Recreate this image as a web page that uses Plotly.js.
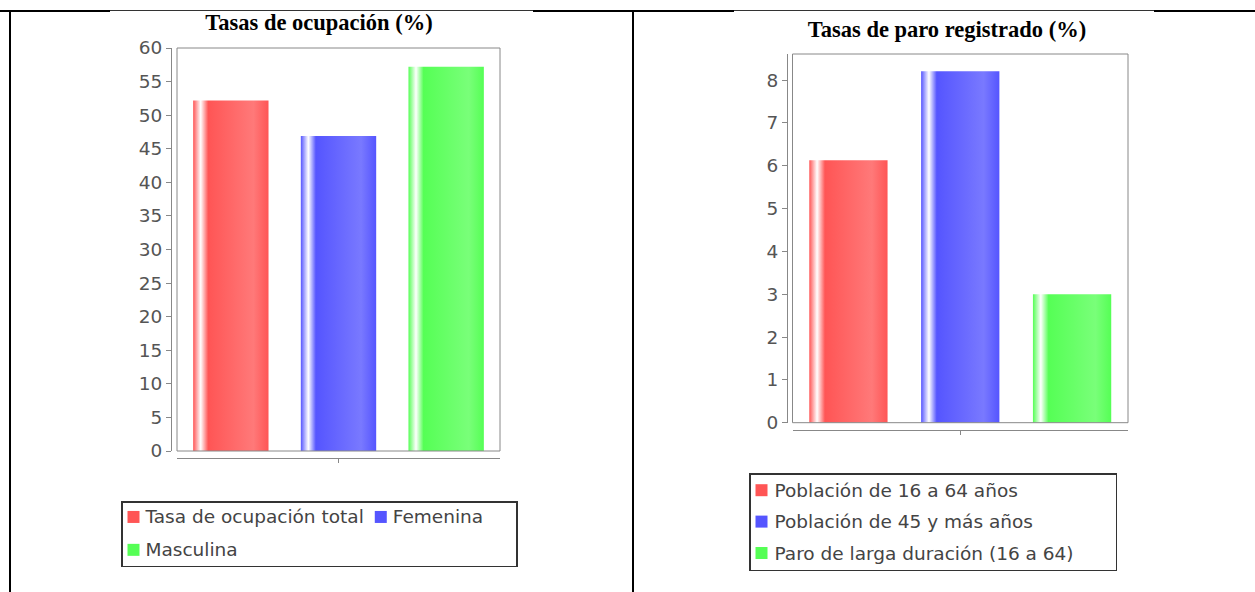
<!DOCTYPE html>
<html>
<head>
<meta charset="utf-8">
<script src="https://cdn.plot.ly/plotly-3.0.1.min.js"></script>
<style>
  html, body { margin:0; padding:0; background:#fff; }
  #page { position:relative; width:1255px; height:592px; overflow:hidden; background:#fff; }
  .chart { position:absolute; top:0; height:592px; }
  .rule { position:absolute; background:#000; z-index:5; pointer-events:none; }
  .thin { position:absolute; z-index:6; height:2px; top:10px; background:linear-gradient(#333 0 1px, #fff 1px 2px); pointer-events:none; }
</style>
</head>
<body>
<div id="page">
  <div id="left" class="chart" style="left:-25px;width:657px;"></div>
  <div id="right" class="chart" style="left:632px;width:623px;"></div>
  <div class="rule" style="left:0;top:10px;width:1255px;height:2px;"></div>
  <div class="thin" style="left:110px;width:423px;"></div>
  <div class="thin" style="left:734px;width:420px;"></div>
  <div class="rule" style="left:9px;top:10px;width:2px;height:582px;"></div>
  <div class="rule" style="left:632px;top:10px;width:2px;height:582px;"></div>
</div>
<script>
// ---- data ----
const leftTitle = 'Tasas de ocupación (%)';
const leftSeries = ['Tasa de ocupación total', 'Femenina', 'Masculina'];
const leftValues = [52.2, 46.9, 57.2];

const rightTitle = 'Tasas de paro registrado (%)';
const rightSeries = ['Población de 16 a 64 años', 'Población de 45 y más años', 'Paro de larga duración (16 a 64)'];
const rightValues = [6.13, 8.21, 3.0];

const seriesColors = ['#FF5555', '#5555FF', '#55FF55'];
const brightColors = ['#FF7979', '#7979FF', '#79FF79'];

const AXIS_GREY = '#888888';
const TICK_FONT = {family: 'DejaVu Sans, sans-serif', size: 18.5, color: '#555555'};
const LEG_TEXT_SIZE = 18.5;
const TITLE_FONT = {family: 'Liberation Serif, serif', size: 22.5, color: '#000000', weight: 700};

function makeTraces(names, values) {
  return names.map((n, i) => ({
    type: 'bar',
    name: '<span style="font-size:' + LEG_TEXT_SIZE + 'px">' + n + '</span>',
    x: [''],
    y: [values[i]],
    marker: {color: seriesColors[i], line: {width: 0}},
    hoverinfo: 'skip'
  }));
}

function baseLayout(opts) {
  return {
    width: opts.width, height: 592,
    margin: {l: opts.l, r: opts.r, t: opts.t, b: opts.b, pad: 0, autoexpand: false},
    paper_bgcolor: 'rgba(0,0,0,0)',
    plot_bgcolor: '#ffffff',
    barmode: 'group', bargap: 0, bargroupgap: 0.3,
    showlegend: true,
    title: {text: opts.title, font: TITLE_FONT, xref: 'container', yref: 'container',
            x: opts.titleX, y: opts.titleY, xanchor: 'center', yanchor: 'middle'},
    xaxis: {
      domain: [opts.xd0, 1], anchor: 'free', position: 0, type: 'category',
      range: [-0.5, 0.5], showline: true, linecolor: AXIS_GREY, linewidth: 1,
      ticks: 'outside', ticklen: 4, tickcolor: AXIS_GREY, showticklabels: false,
      showgrid: false, zeroline: false, fixedrange: true
    },
    yaxis: {
      domain: [opts.yd0, 1], anchor: 'free', position: 0,
      range: opts.yrange, dtick: opts.dtick, tick0: 0,
      showline: true, linecolor: AXIS_GREY, linewidth: 1,
      ticks: 'outside', ticklen: 5, tickcolor: AXIS_GREY, tickfont: TICK_FONT,
      showgrid: false, zeroline: false, fixedrange: true
    },
    shapes: [{type: 'rect', xref: 'x domain', yref: 'y domain', x0: 0, x1: 1, y0: 0, y1: 1,
              line: {color: AXIS_GREY, width: 1}, fillcolor: 'rgba(0,0,0,0)', layer: 'above'}],
    legend: Object.assign({
      bgcolor: '#ffffff', bordercolor: '#333333', borderwidth: 1.5,
      xanchor: 'left', yanchor: 'top', traceorder: 'normal',
      itemclick: false, itemdoubleclick: false
    }, opts.legend)
  };
}

function applyGradients(gd) {
  const ns = 'http://www.w3.org/2000/svg';
  const svg = gd.querySelector('svg.main-svg');
  const defs = document.createElementNS(ns, 'defs');
  svg.insertBefore(defs, svg.firstChild);
  seriesColors.forEach((c0, i) => {
    const lg = document.createElementNS(ns, 'linearGradient');
    lg.setAttribute('id', gd.id + '-grad-' + i);
    lg.setAttribute('x1', '0'); lg.setAttribute('x2', '1');
    lg.setAttribute('y1', '0'); lg.setAttribute('y2', '0');
    [[0, c0], [0.1, '#FFFFFF'], [0.2, c0], [0.8, brightColors[i]], [1, c0]].forEach(s => {
      const st = document.createElementNS(ns, 'stop');
      st.setAttribute('offset', s[0]);
      st.setAttribute('stop-color', s[1]);
      lg.appendChild(st);
    });
    defs.appendChild(lg);
  });
  gd.querySelectorAll('.barlayer .trace').forEach((tr, i) => {
    tr.querySelectorAll('path').forEach(p => { p.style.fill = 'url(#' + gd.id + '-grad-' + i + ')'; });
  });
  return gd;
}

// legend cosmetics: tighter symbol/text spacing and row grouping like the original chart library
function tweakLegend(gd, o) {
  const sb = gd.querySelector('.legend .scrollbox');
  if (sb) sb.removeAttribute('clip-path');
  const items = Array.from(gd.querySelectorAll('.legend .traces'));
  const parseT = el => {
    const m = /translate\(\s*([-\d.e]+)[ ,]+([-\d.e]+)/.exec(el.getAttribute('transform') || '');
    return m ? [parseFloat(m[1]), parseFloat(m[2])] : [0, 0];
  };
  items.forEach(it => {
    const pts = it.querySelector('.legendpoints');
    if (pts) pts.setAttribute('transform', 'translate(' + o.symShift + ',0) ' + (pts.getAttribute('transform') || ''));
    const txt = it.querySelector('.legendtext');
    if (txt) {
      txt.setAttribute('x', (parseFloat(txt.getAttribute('x')) || 0) + o.textShift);
      txt.setAttribute('y', (parseFloat(txt.getAttribute('y')) || 0) + o.textDy);
    }
  });
  let removedH = 0;
  if (o.rows && items.length > 1) {
    const T = items.map(parseT);
    const rowH = T[1][1] - T[0][1];
    o.rows.forEach((row, r) => row.forEach(idx => {
      items[idx].setAttribute('transform', 'translate(' + T[0][0] + ',' + (T[0][1] + r * rowH) + ')');
    }));
    removedH = (items.length - o.rows.length) * rowH;
  }
  for (let k = 1; k < items.length; k++) {
    const a = parseT(items[k - 1]), b = parseT(items[k]);
    if (Math.abs(a[1] - b[1]) < 1) {
      const prevTextRight = items[k - 1].querySelector('.legendtext').getBoundingClientRect().right;
      const symLeft = items[k].querySelector('.legendpoints').getBoundingClientRect().left;
      const delta = prevTextRight + o.itemSpace - symLeft;
      items[k].setAttribute('transform', 'translate(' + (b[0] + delta) + ',' + b[1] + ')');
    }
  }
  const bg = gd.querySelector('.legend .bg');
  if (bg) {
    const y = parseFloat(bg.getAttribute('y')), h = parseFloat(bg.getAttribute('height'));
    bg.setAttribute('y', y + o.padTop);
    bg.setAttribute('height', h - o.padTop - o.padBottom - removedH);
    if (o.trailing != null) {
      const bgLeft = bg.getBoundingClientRect().left;
      let maxRight = 0;
      items.forEach(it => { maxRight = Math.max(maxRight, it.querySelector('.legendtext').getBoundingClientRect().right); });
      bg.setAttribute('width', maxRight - bgLeft + o.trailing);
    }
  }
}

const cfg = {staticPlot: true, displayModeBar: false};

Plotly.newPlot('left', makeTraces(leftSeries, leftValues), baseLayout({
  width: 657, l: 196, r: 132, t: 48, b: 134,
  xd0: 6 / 329, yd0: 7 / 410,
  yrange: [0, 60], dtick: 5,
  title: leftTitle, titleX: 344 / 657, titleY: 1 - 22 / 592,
  legend: {orientation: 'h', font: {family: 'DejaVu Sans, sans-serif', size: 23, color: '#444444'},
           x: -50 / 329, y: (458 - 494) / 410}
}), cfg).then(applyGradients).then(gd => tweakLegend(gd, {
  symShift: -9, textShift: -17, textDy: -2.5, itemSpace: 11, padTop: 7, padBottom: 6, trailing: 34,
  rows: [[0, 1], [2]]
}));

Plotly.newPlot('right', makeTraces(rightSeries, rightValues), baseLayout({
  width: 623, l: 155, r: 127, t: 54, b: 162,
  xd0: 5.5 / 341, yd0: 7.3 / 376,
  yrange: [0, 8.61], dtick: 1,
  title: rightTitle, titleX: 315 / 623, titleY: 1 - 29 / 592,
  legend: {orientation: 'h', font: {family: 'DejaVu Sans, sans-serif', size: 21.85, color: '#444444'},
           entrywidthmode: 'pixels', entrywidth: 320, x: -38 / 341, y: (430 - 468) / 376}
}), cfg).then(applyGradients).then(gd => tweakLegend(gd, {
  symShift: -9, textShift: -16, textDy: -2, itemSpace: 11, padTop: 5, padBottom: 5, trailing: null
}));
</script>
</body>
</html>
